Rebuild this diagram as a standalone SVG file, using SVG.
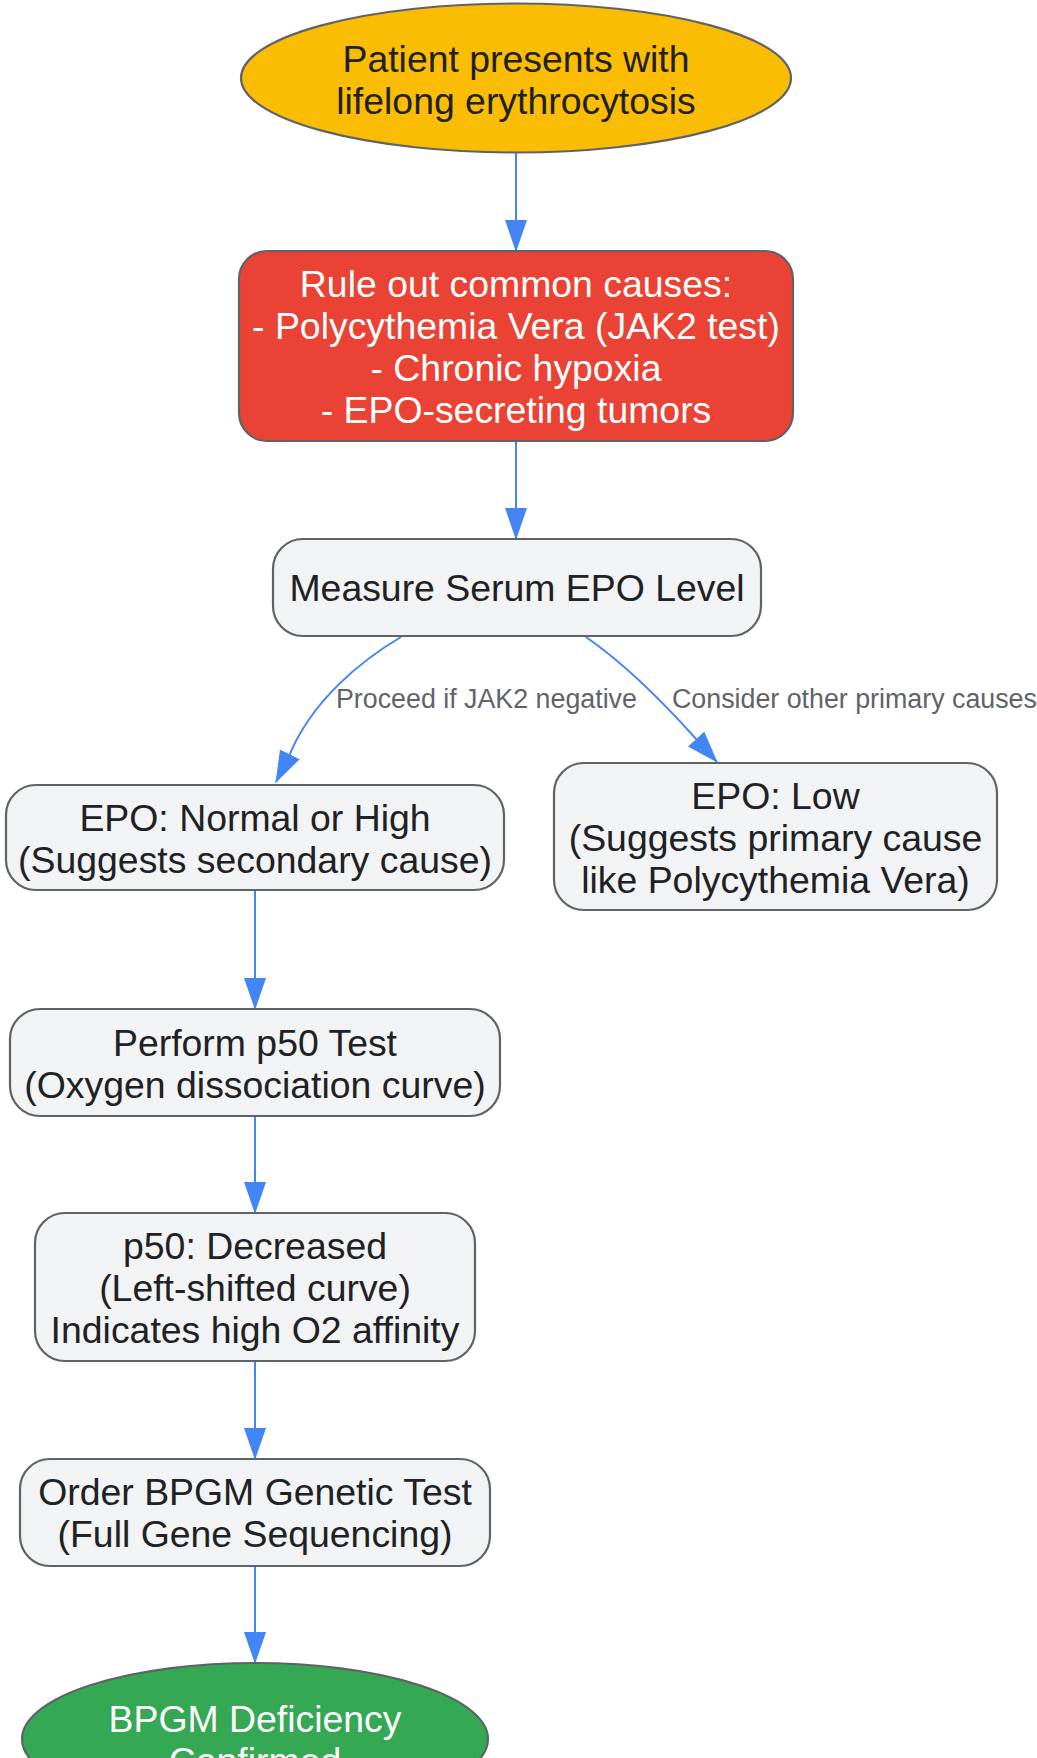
<svg xmlns="http://www.w3.org/2000/svg" width="1037" height="1758" viewBox="0 0 1037 1758">
<style>
  .node { stroke: #5F6368; stroke-width: 2.2; }
  .gray { fill: #F1F3F4; }
  .t { font-family: "Liberation Sans", Arial, sans-serif; font-size: 37.4px; text-anchor: middle; fill: #202124; }
  .w { fill: #FFFFFF; }
  .edge { fill: none; stroke: #4285F4; stroke-width: 2; }
  .lbl { font-family: "Liberation Sans", Arial, sans-serif; font-size: 26.8px; fill: #5F6368; }
</style>
<defs>
  <marker id="arr" markerUnits="userSpaceOnUse" markerWidth="32" markerHeight="22" refX="31" refY="11" orient="auto" viewBox="0 0 32 22">
    <path d="M0,0 L32,11 L0,22 z" fill="#4285F4"/>
  </marker>
</defs>
<rect width="1037" height="1758" fill="#FFFFFF"/>
<g id="connectors">
  <path class="edge" d="M516,152 L516,251" marker-end="url(#arr)"/>
  <path class="edge" d="M516,441 L516,539" marker-end="url(#arr)"/>
  <path class="edge" d="M401,637 C362,660 312,700 289,756 L276,782" marker-end="url(#arr)"/>
  <path class="edge" d="M586,637 C622,662 664,703 697,740 L717,762" marker-end="url(#arr)"/>
  <path class="edge" d="M255,890 L255,1009" marker-end="url(#arr)"/>
  <path class="edge" d="M255,1116 L255,1213" marker-end="url(#arr)"/>
  <path class="edge" d="M255,1361 L255,1459" marker-end="url(#arr)"/>
  <path class="edge" d="M255,1566 L255,1663" marker-end="url(#arr)"/>
  <text class="lbl" x="336" y="708">Proceed if JAK2 negative</text>
  <text class="lbl" x="672" y="708">Consider other primary causes</text>
</g>
<g id="start">
  <ellipse class="node" cx="516" cy="78" rx="275" ry="74.5" fill="#FBBC04"/>
  <text class="t" x="516" y="72">Patient presents with</text>
  <text class="t" x="516" y="114">lifelong erythrocytosis</text>
</g>
<g id="ruleout">
  <rect class="node" x="239" y="251" width="554" height="190" rx="28" fill="#EA4335"/>
  <text class="t w" x="516" y="297">Rule out common causes:</text>
  <text class="t w" x="516" y="339">- Polycythemia Vera (JAK2 test)</text>
  <text class="t w" x="516" y="381">- Chronic hypoxia</text>
  <text class="t w" x="516" y="423">- EPO-secreting tumors</text>
</g>
<g id="measure">
  <rect class="node gray" x="273" y="539" width="488" height="97" rx="30"/>
  <text class="t" x="517" y="601">Measure Serum EPO Level</text>
</g>
<g id="epoNormal">
  <rect class="node gray" x="6" y="785" width="498" height="105" rx="30"/>
  <text class="t" x="255" y="831">EPO: Normal or High</text>
  <text class="t" x="255" y="873">(Suggests secondary cause)</text>
</g>
<g id="epoLow">
  <rect class="node gray" x="554" y="763" width="443" height="147" rx="30"/>
  <text class="t" x="775.5" y="809">EPO: Low</text>
  <text class="t" x="775.5" y="851">(Suggests primary cause</text>
  <text class="t" x="775.5" y="893">like Polycythemia Vera)</text>
</g>
<g id="p50test">
  <rect class="node gray" x="10" y="1009" width="490" height="107" rx="30"/>
  <text class="t" x="255" y="1056">Perform p50 Test</text>
  <text class="t" x="255" y="1098">(Oxygen dissociation curve)</text>
</g>
<g id="p50dec">
  <rect class="node gray" x="35" y="1213" width="440" height="148" rx="30"/>
  <text class="t" x="255" y="1259">p50: Decreased</text>
  <text class="t" x="255" y="1301">(Left-shifted curve)</text>
  <text class="t" x="255" y="1343">Indicates high O2 affinity</text>
</g>
<g id="bpgmTest">
  <rect class="node gray" x="20" y="1459" width="470" height="107" rx="30"/>
  <text class="t" x="255" y="1505">Order BPGM Genetic Test</text>
  <text class="t" x="255" y="1547">(Full Gene Sequencing)</text>
</g>
<g id="confirmed">
  <ellipse class="node" cx="255" cy="1739" rx="233" ry="76" fill="#34A853"/>
  <text class="t w" x="255" y="1732">BPGM Deficiency</text>
  <text class="t w" x="255" y="1774">Confirmed</text>
</g>
</svg>
